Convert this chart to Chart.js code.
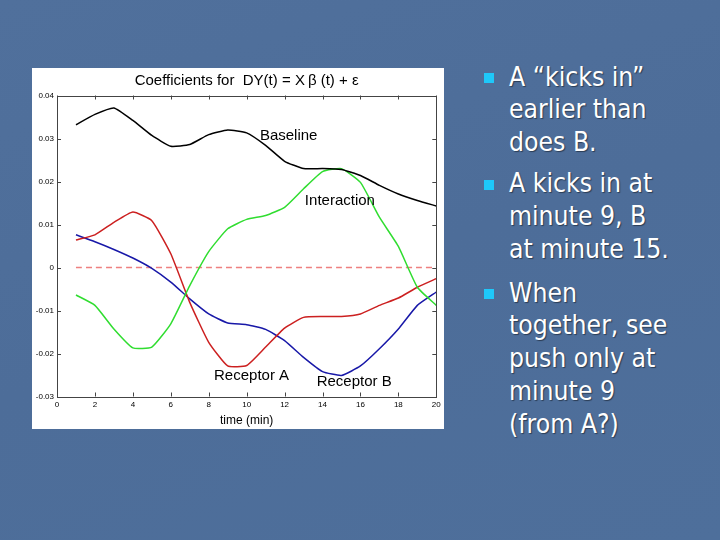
<!DOCTYPE html>
<html>
<head>
<meta charset="utf-8">
<script src="https://cdn.jsdelivr.net/npm/chart.js@4.4.1/dist/chart.umd.min.js"></script>
<style>
  html, body { margin:0; padding:0; }
  body { width:720px; height:540px; overflow:hidden; position:relative;
    background: linear-gradient(160deg, #50709c 0%, #4d6d99 50%, #4e6f9b 100%); }
  #box { position:absolute; left:32px; top:68px; width:412px; height:361px; background:#fff; }
  #box canvas { display:block; }
  .para { position:absolute; left:484px; color:#fff;
    font-family:"DejaVu Sans Condensed","DejaVu Sans",sans-serif; font-stretch:condensed;
    font-size:26.3px; line-height:32.8px; text-shadow:1px 1px 1px rgba(0,0,0,0.45); }
  .para .txt { margin-left:25px; white-space:nowrap; }
  .para .bul { position:absolute; left:0; top:12.5px; width:10px; height:10px; background:#1ec8fa; }
</style>
</head>
<body>
<div id="box"><canvas id="c" width="412" height="361"></canvas></div>
<div class="para" style="top:60.5px"><div class="bul"></div><div class="txt">A “kicks in”<br>earlier than<br>does B.</div></div>
<div class="para" style="top:167px"><div class="bul"></div><div class="txt">A kicks in at<br>minute 9, B<br>at minute 15.</div></div>
<div class="para" style="top:276.5px"><div class="bul"></div><div class="txt">When<br>together, see<br>push only at<br>minute 9<br>(from A?)</div></div>
<script>
// ---- data ----
const times = [1,2,3,4,5,6,7,8,9,10,11,12,13,14,15,16,17,18,19,20];
const baseline   = [0.0332,0.0356,0.0371,0.0342,0.0307,0.0282,0.0286,0.0309,0.0320,0.0313,0.0284,0.0247,0.0230,0.0230,0.0228,0.0214,0.0191,0.0171,0.0156,0.0143];
const interaction= [-0.0064,-0.0088,-0.0143,-0.0187,-0.0185,-0.0131,-0.0042,0.0037,0.0090,0.0112,0.0121,0.0140,0.0183,0.0223,0.0230,0.0198,0.0117,0.0049,-0.0046,-0.0088];
const receptorA  = [0.0064,0.0076,0.0105,0.0129,0.0109,0.0032,-0.0081,-0.0174,-0.0229,-0.0228,-0.0185,-0.0141,-0.0116,-0.0114,-0.0114,-0.0108,-0.0088,-0.0071,-0.0046,-0.0026];
const receptorB  = [0.0076,0.0060,0.0042,0.0022,-0.0002,-0.0034,-0.0073,-0.0108,-0.0129,-0.0133,-0.0144,-0.0170,-0.0209,-0.0242,-0.0251,-0.0229,-0.0189,-0.0143,-0.0088,-0.0057];
const zeroLine   = [0,0,0,0,0,0,0,0,0,0,0,0,0,0,0,0,0,0,0,0];
const xTicks = [0,2,4,6,8,10,12,14,16,18,20];
const yTicks = [-0.03,-0.02,-0.01,0,0.01,0.02,0.03,0.04];
const yTickLabels = ['-0.03','-0.02','-0.01','0','0.01','0.02','0.03','0.04'];
const seriesNames = ['Baseline','Interaction','Receptor A','Receptor B'];
const labelAnchors = [[10.7,0.0305],[13.07,0.0156],[8.28,-0.0251],[13.69,-0.0265]];
const chartTitle = 'Coefficients for  DY(t) = X\u2009\u03B2 (t) + \u03B5';
const xTitle = 'time (min)';

const pts = arr => times.map((t,i)=>({x:t,y:arr[i]}));
const FONT = '"Liberation Sans", Arial, sans-serif';

const framePlugin = {
  id:'frame',
  afterDatasetsDraw(chart){
    const {ctx, chartArea:a, scales:{x,y}} = chart;
    ctx.save();
    ctx.strokeStyle = '#444'; ctx.lineWidth = 1;
    ctx.strokeRect(Math.round(a.left)+0.5, Math.round(a.top)+0.5, Math.round(a.right-a.left), Math.round(a.bottom-a.top));
    ctx.beginPath();
    xTicks.forEach(v=>{ const px=Math.round(x.getPixelForValue(v))+0.5;
      ctx.moveTo(px,a.bottom); ctx.lineTo(px,a.bottom-4);
      ctx.moveTo(px,a.top); ctx.lineTo(px,a.top+4); });
    yTicks.forEach(v=>{ const py=Math.round(y.getPixelForValue(v))+0.5;
      ctx.moveTo(a.left,py); ctx.lineTo(a.left+4,py);
      ctx.moveTo(a.right,py); ctx.lineTo(a.right-4,py); });
    ctx.stroke();
    // series labels
    ctx.fillStyle = '#000'; ctx.font = '15px '+FONT; ctx.textBaseline='middle'; ctx.textAlign='left';
    seriesNames.forEach((n,i)=>{ ctx.fillText(n, x.getPixelForValue(labelAnchors[i][0]), y.getPixelForValue(labelAnchors[i][1])); });
    // title
    ctx.textAlign='center';
    ctx.fillText(chartTitle, (a.left+a.right)/2, a.top - 15);
    ctx.font = '12px '+FONT;
    ctx.fillText(xTitle, (a.left+a.right)/2, a.bottom + 24);
    ctx.restore();
  }
};

new Chart(document.getElementById('c'), {
  type:'line',
  data:{ datasets:[
    {data:pts(baseline), borderColor:'#000000', borderWidth:1.5, order:1},
    {data:pts(interaction), borderColor:'#30dd30', borderWidth:1.5, order:2},
    {data:pts(receptorA), borderColor:'#cc2020', borderWidth:1.5, order:3},
    {data:pts(receptorB), borderColor:'#1818a8', borderWidth:1.5, order:4},
    {data:pts(zeroLine), borderColor:'#ee8080', borderWidth:1.5, borderDash:[6,4], order:10}
  ]},
  options:{
    responsive:false, animation:false, devicePixelRatio:1,
    layout:{ padding:{top:27.5, right:7.7, left:0, bottom:0} },
    elements:{ point:{radius:0}, line:{tension:0.15, fill:false} },
    plugins:{ legend:{display:false}, tooltip:{enabled:false}, title:{display:false} },
    scales:{
      x:{ type:'linear', min:0, max:20,
        afterBuildTicks: s => { s.ticks = xTicks.map(v=>({value:v})); },
        afterFit: s => { s.height = 32.5; },
        grid:{display:false, drawTicks:false}, border:{display:false},
        ticks:{ padding:3, color:'#000', font:{size:8, family:FONT}, maxRotation:0, autoSkip:false } },
      y:{ type:'linear', min:-0.03, max:0.04,
        afterBuildTicks: s => { s.ticks = yTicks.map(v=>({value:v})); },
        afterFit: s => { s.width = 25; },
        grid:{display:false, drawTicks:false}, border:{display:false},
        ticks:{ padding:3, color:'#000', font:{size:8, family:FONT}, autoSkip:false,
          callback: (v)=>{ const i = yTicks.findIndex(t=>Math.abs(t-v)<1e-9); return i>=0 ? yTickLabels[i] : ''; } } }
    }
  },
  plugins:[framePlugin]
});
</script>
</body>
</html>
